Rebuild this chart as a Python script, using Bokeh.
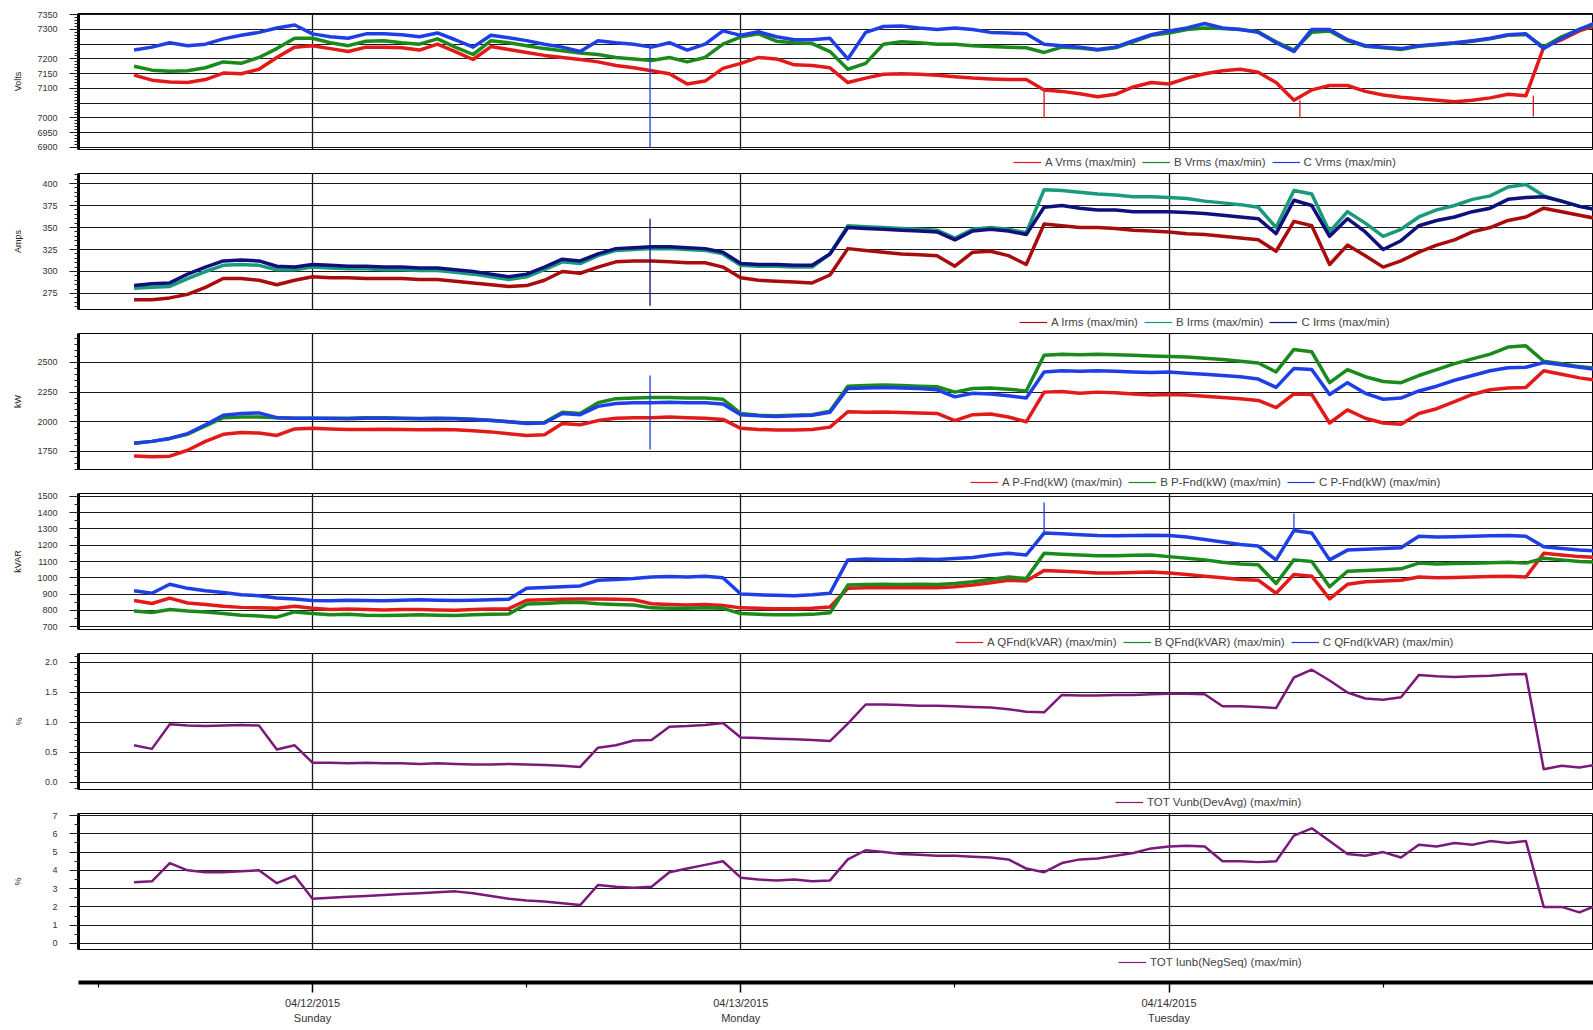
import numpy as np
from bokeh.plotting import figure
from bokeh.models import (Range1d, LinearAxis, FixedTicker, Grid, Legend, LegendItem,
                          PrintfTickFormatter, ColumnDataSource)
from bokeh.layouts import column
from bokeh.embed import file_html
from bokeh.resources import INLINE

FONT = "Liberation Sans"

# ---------------- hourly readings, 2015-04-11 14:00 -> 2015-04-15 00:00 ----------------
START = "2015-04-11T14:00"

# Volts
vrms_a = [7145, 7128, 7122, 7120, 7130, 7152, 7150, 7165, 7205, 7240,
          7245, 7235, 7225, 7240, 7240, 7238, 7230, 7250, 7225, 7198, 7242, 7232,
          7222, 7212, 7205, 7198, 7190, 7178, 7170, 7160, 7150, 7115, 7125, 7168,
          7185, 7205, 7200, 7180, 7178, 7170, 7120, 7135, 7148, 7150, 7148, 7145,
          7140, 7135, 7132, 7130, 7130, 7095, 7090, 7082, 7072, 7080, 7105, 7120,
          7115, 7135, 7150, 7160, 7165, 7155, 7120, 7060, 7095, 7110, 7110, 7090,
          7078, 7070, 7065, 7060, 7055, 7060, 7068, 7080, 7075, 7240, 7265, 7295,
          7315]
vrms_b = [7175, 7162, 7158, 7160, 7170, 7190, 7185, 7205, 7235, 7270,
          7270, 7255, 7245, 7260, 7262, 7255, 7250, 7268, 7240, 7215, 7262, 7255,
          7245, 7235, 7228, 7220, 7215, 7205, 7200, 7195, 7205, 7190, 7205, 7250,
          7275, 7285, 7260, 7255, 7252, 7225, 7165, 7185, 7250, 7258, 7255, 7250,
          7250, 7245, 7242, 7240, 7238, 7222, 7240, 7237, 7230, 7238, 7258, 7280,
          7288, 7300, 7305, 7303, 7300, 7292, 7258, 7230, 7290, 7295, 7262, 7243,
          7238, 7232, 7243, 7248, 7253, 7260, 7268, 7280, 7283, 7240, 7275, 7300,
          7320]
vrms_c = [7230, 7240, 7255, 7245, 7250, 7268, 7280, 7290, 7305, 7315,
          7285, 7275, 7270, 7285, 7285, 7282, 7275, 7288, 7265, 7240, 7280, 7272,
          7262, 7250, 7240, 7225, 7262, 7255, 7250, 7240, 7255, 7230, 7250, 7295,
          7280, 7292, 7275, 7265, 7265, 7270, 7200, 7290, 7310, 7312, 7305, 7300,
          7305, 7300, 7290, 7288, 7285, 7250, 7245, 7240, 7232, 7240, 7262, 7282,
          7295, 7305, 7320, 7305, 7300, 7290, 7255, 7225, 7300, 7300, 7265, 7245,
          7240, 7235, 7245, 7250, 7255, 7262, 7270, 7282, 7285, 7235, 7270, 7300,
          7325]

# Amps
irms_a = [268, 268, 270, 274, 282, 292, 292, 290, 285, 290,
          294, 293, 293, 292, 292, 292, 291, 291, 289, 287, 285, 283,
          284, 290, 300, 298, 305, 311, 312, 312, 311, 310, 310, 305,
          293, 290, 289, 288, 287, 296, 326, 324, 322, 320, 319, 318,
          306, 322, 323, 318, 308, 354, 352, 350, 350, 349, 347, 346,
          345, 343, 342, 340, 338, 336, 323, 357, 352, 308, 330, 318,
          305, 312, 322, 330, 336, 345, 350, 358, 362, 372, 368, 364,
          360]
irms_b = [281, 282, 283, 292, 300, 307, 308, 307, 302, 302,
          305, 304, 303, 303, 302, 302, 301, 301, 299, 297, 294, 291,
          294, 302, 311, 309, 318, 324, 325, 326, 326, 325, 324, 320,
          307, 306, 306, 305, 305, 320, 352, 351, 350, 349, 348, 347,
          338, 348, 350, 348, 344, 393, 392, 390, 388, 387, 385, 385,
          384, 383, 380, 378, 376, 373, 350, 392, 388, 345, 368, 355,
          340, 348, 362, 370, 375, 382, 386, 396, 399, 386, 380, 374,
          370]
irms_c = [284, 286, 287, 297, 305, 312, 313, 312, 306, 305,
          308, 307, 306, 306, 305, 305, 304, 304, 302, 300, 297, 294,
          297, 305, 314, 312, 320, 326, 327, 328, 328, 327, 326, 322,
          309, 308, 308, 307, 307, 320, 350, 349, 348, 347, 346, 345,
          336, 346, 348, 346, 342, 373, 375, 372, 370, 370, 368, 368,
          368, 367, 366, 364, 362, 360, 343, 381, 375, 340, 360, 345,
          325, 335, 352, 358, 362, 368, 372, 382, 384, 385, 380, 374,
          370]

# kW
kw_a = [1712, 1705, 1710, 1760, 1835, 1895, 1910, 1905, 1885, 1940,
        1945, 1940, 1935, 1935, 1938, 1935, 1932, 1935, 1932, 1925, 1915, 1900,
        1885, 1890, 1985, 1975, 2010, 2030, 2035, 2035, 2040, 2035, 2030, 2020,
        1945, 1935, 1930, 1930, 1935, 1955, 2085, 2080, 2082, 2078, 2075, 2070,
        2010, 2060, 2065, 2040, 2000, 2250, 2255, 2240, 2250, 2245, 2235, 2225,
        2230, 2225, 2215, 2205, 2195, 2180, 2120, 2235, 2230, 1990, 2100, 2030,
        1990, 1980, 2070, 2110, 2170, 2230, 2270, 2285, 2290, 2430, 2400, 2370,
        2350]
kw_b = [1820, 1835, 1860, 1895, 1965, 2035, 2040, 2040, 2035, 2030,
        2030, 2030, 2030, 2035, 2035, 2030, 2028, 2030, 2028, 2022, 2012, 2000,
        1990, 1995, 2080, 2070, 2160, 2195, 2200, 2205, 2205, 2200, 2200, 2190,
        2070, 2055, 2050, 2055, 2060, 2090, 2300, 2305, 2310, 2305, 2300, 2295,
        2250, 2280, 2285, 2275, 2260, 2560, 2570, 2565, 2570, 2565, 2560, 2555,
        2550, 2545, 2535, 2525, 2510, 2495, 2420, 2610, 2590, 2330, 2440, 2380,
        2340, 2330, 2390, 2440, 2490, 2530, 2570, 2630, 2640, 2510, 2490, 2465,
        2450]
kw_c = [1820, 1835, 1860, 1900, 1975, 2055, 2070, 2075, 2035, 2030,
        2030, 2028, 2025, 2030, 2030, 2028, 2025, 2028, 2025, 2020, 2010, 2000,
        1985, 1990, 2070, 2060, 2130, 2155, 2160, 2160, 2165, 2160, 2160, 2150,
        2060, 2050, 2045, 2050, 2055, 2080, 2280, 2285, 2290, 2285, 2280, 2270,
        2210, 2240, 2235, 2220, 2200, 2420, 2430, 2425, 2430, 2425, 2420, 2415,
        2420, 2410, 2400, 2390, 2380, 2360, 2290, 2450, 2440, 2230, 2330, 2240,
        2190, 2200, 2260, 2300, 2350, 2390, 2430, 2455, 2460, 2500, 2480, 2460,
        2440]

# kVAR
kvar_a = [860, 842, 875, 845, 835, 825, 818, 815, 812, 825,
          812, 805, 808, 805, 802, 805, 805, 802, 800, 805, 808, 810,
          862, 865, 868, 870, 870, 868, 865, 840, 835, 832, 835, 830,
          815, 812, 810, 810, 812, 820, 935, 938, 940, 938, 940, 938,
          945, 955, 970, 985, 980, 1045, 1040, 1035, 1030, 1030, 1032, 1035,
          1030, 1020, 1010, 1000, 990, 985, 905, 1020, 1010, 870, 960, 975,
          980, 985, 1005, 1000, 1002, 1005, 1008, 1010, 1005, 1150, 1140, 1130,
          1125]
kvar_b = [795, 786, 805, 795, 790, 780, 770, 765, 758, 790,
          780, 772, 775, 770, 768, 770, 772, 770, 768, 772, 775, 778,
          838, 842, 848, 850, 840, 835, 832, 815, 812, 812, 815, 812,
          780, 775, 772, 772, 775, 785, 955, 958, 960, 958, 960, 958,
          965, 975, 990, 1005, 995, 1150, 1145, 1140, 1135, 1135, 1138, 1140,
          1130, 1120, 1110, 1095, 1085, 1080, 965, 1110, 1100, 945, 1040, 1045,
          1050, 1055, 1090, 1085, 1088, 1090, 1092, 1095, 1090, 1120, 1110, 1100,
          1095]
kvar_c = [920, 905, 960, 935, 920, 910, 895, 890, 875, 870,
          860, 858, 862, 860, 858, 862, 865, 862, 860, 862, 865, 868,
          935, 940, 945, 950, 985, 990, 995, 1005, 1008, 1005, 1010, 1000,
          900, 895, 892, 890, 895, 905, 1110, 1115, 1112, 1110, 1115, 1112,
          1118, 1125, 1140, 1150, 1140, 1275, 1270, 1265, 1260, 1258, 1260, 1262,
          1260, 1250, 1235, 1220, 1205, 1195, 1110, 1290, 1275, 1110, 1170, 1175,
          1180, 1185, 1255, 1250, 1252, 1255, 1258, 1260, 1255, 1190, 1180, 1170,
          1165]

# % voltage unbalance
vunb = [0.62, 0.56, 0.97, 0.95, 0.94, 0.95, 0.96, 0.95, 0.55, 0.62,
        0.33, 0.33, 0.32, 0.33, 0.32, 0.32, 0.31, 0.32, 0.31, 0.30, 0.30, 0.31,
        0.30, 0.29, 0.28, 0.26, 0.58, 0.62, 0.70, 0.71, 0.93, 0.94, 0.96, 0.99,
        0.75, 0.74, 0.73, 0.72, 0.71, 0.69, 0.98, 1.30, 1.30, 1.29, 1.28, 1.28,
        1.27, 1.26, 1.25, 1.22, 1.18, 1.17, 1.46, 1.45, 1.45, 1.46, 1.46, 1.47,
        1.48, 1.48, 1.47, 1.27, 1.27, 1.26, 1.24, 1.75, 1.88, 1.70, 1.50, 1.40,
        1.38, 1.42, 1.79, 1.77, 1.76, 1.77, 1.78, 1.80, 1.81, 0.22, 0.28, 0.25,
        0.30]

# % current unbalance
iunb = [3.35, 3.40, 4.40, 4.00, 3.90, 3.90, 3.95, 4.00, 3.30, 3.70,
        2.45, 2.50, 2.55, 2.60, 2.65, 2.70, 2.75, 2.80, 2.85, 2.75, 2.60, 2.45,
        2.35, 2.30, 2.20, 2.10, 3.20, 3.10, 3.05, 3.10, 3.90, 4.10, 4.30, 4.50,
        3.60, 3.50, 3.45, 3.50, 3.40, 3.45, 4.60, 5.10, 5.00, 4.90, 4.85, 4.80,
        4.80, 4.75, 4.70, 4.60, 4.10, 3.90, 4.40, 4.60, 4.65, 4.80, 4.95, 5.20,
        5.30, 5.35, 5.30, 4.50, 4.50, 4.45, 4.50, 5.90, 6.30, 5.60, 4.90, 4.80,
        5.00, 4.70, 5.40, 5.30, 5.50, 5.40, 5.60, 5.50, 5.60, 2.00, 2.00, 1.70,
        2.10]

# single-sample transients (time, from, to, phase index)
vrms_spikes = [("2015-04-12T18:55", 7240, 6900, 2), ("2015-04-13T17:00", 7090, 7000, 0),
               ("2015-04-14T07:20", 7060, 7000, 0), ("2015-04-14T20:25", 7075, 7005, 0)]
irms_spikes = [("2015-04-12T18:55", 360, 261, 2)]
kw_spikes = [("2015-04-12T18:55", 2390, 1767, 2)]
kvar_spikes = [("2015-04-13T17:00", 1275, 1463, 2), ("2015-04-14T07:00", 1290, 1395, 2)]

day_dates = ["2015-04-12", "2015-04-13", "2015-04-14", "2015-04-15"]
day_labels = ["04/12/2015\nSunday", "04/13/2015\nMonday", "04/14/2015\nTuesday", "04/15/2015\nWednesday"]
noon_dates = ["2015-04-11T12:00", "2015-04-12T12:00", "2015-04-13T12:00", "2015-04-14T12:00"]


def ms(s):
    return float(np.datetime64(s, "ms").astype("int64"))


def times_for(vals):
    t0 = np.datetime64(START, "ms").astype("int64")
    return (t0 + np.arange(len(vals)) * 3600000).astype(float)


day_ticks = [ms(d) for d in day_dates]
noon_ticks = [ms(d) for d in noon_dates]
x_range = Range1d(ms("2015-04-11T10:53:10"), ms("2015-04-14T23:47:20"))

RED, GREEN, BLUE = "#e31a1a", "#1a8a1a", "#1f3fe6"
PURPLE = "#7a1a7a"

panels = [
    dict(ylabel="Volts", yr=(6893, 7354), major=[6900, 6950, 7000, 7100, 7150, 7200, 7300, 7350],
         grid=list(range(6900, 7351, 50)), minor=10, fmt="%d", lab_w=20, lw=3.5,
         series=[("A Vrms (max/min)", vrms_a, RED), ("B Vrms (max/min)", vrms_b, GREEN),
                 ("C Vrms (max/min)", vrms_c, BLUE)], spikes=vrms_spikes, legend_x=1013),
    dict(ylabel="Amps", yr=(256.8, 411.4), major=[275, 300, 325, 350, 375, 400],
         grid=[275, 300, 325, 350, 375, 400], minor=5, fmt="%d", lab_w=15, lw=3.5,
         series=[("A Irms (max/min)", irms_a, "#a80c0c"), ("B Irms (max/min)", irms_b, "#1a9a7c"),
                 ("C Irms (max/min)", irms_c, "#10107c")], spikes=irms_spikes, legend_x=1019),
    dict(ylabel="kW", yr=(1598, 2744), major=[1750, 2000, 2250, 2500],
         grid=[1750, 2000, 2250, 2500], minor=50, fmt="%d", lab_w=20, lw=3.5,
         series=[("A P-Fnd(kW) (max/min)", kw_a, RED), ("B P-Fnd(kW) (max/min)", kw_b, GREEN),
                 ("C P-Fnd(kW) (max/min)", kw_c, BLUE)], spikes=kw_spikes, legend_x=970),
    dict(ylabel="kVAR", yr=(682, 1518), major=list(range(700, 1501, 100)),
         grid=list(range(700, 1501, 100)), minor=50, fmt="%d", lab_w=20, lw=3.5,
         series=[("A QFnd(kVAR) (max/min)", kvar_a, RED), ("B QFnd(kVAR) (max/min)", kvar_b, GREEN),
                 ("C QFnd(kVAR) (max/min)", kvar_c, BLUE)], spikes=kvar_spikes, legend_x=955),
    dict(ylabel="%", yr=(-0.117, 2.15), major=[0.0, 0.5, 1.0, 1.5, 2.0],
         grid=[0.0, 0.5, 1.0, 1.5, 2.0], minor=0.1, fmt="%.1f", lab_w=12.5, lw=2.5,
         series=[("TOT Vunb(DevAvg) (max/min)", vunb, PURPLE)], spikes=[], legend_x=1115),
    dict(ylabel="%", yr=(-0.33, 7.11), major=list(range(0, 8)),
         grid=list(range(0, 8)), minor=0.5, fmt="%d", lab_w=5, lw=2.5,
         series=[("TOT Iunb(NegSeq) (max/min)", iunb, PURPLE)], spikes=[], legend_x=1118),
]

W = 1593
LEFT = 78
PAD = 1


def bare_figure(height, y_range, top, bottom, outline):
    f = figure(width=W, height=height, x_range=x_range, y_range=y_range,
               x_axis_location=None, y_axis_location=None, output_backend="svg",
               toolbar_location=None, min_border_left=LEFT, min_border_right=0,
               min_border_top=top, min_border_bottom=bottom,
               outline_line_color=outline, outline_line_width=1,
               background_fill_color="white", border_fill_color="white")
    f.xgrid.visible = False
    f.ygrid.visible = False
    return f


figs = []
n = len(panels)
for i, cfg in enumerate(panels):
    last = i == n - 1
    top = 13 if i == 0 else 4
    lo, hi = cfg["yr"]

    # ---------- data panel ----------
    p = bare_figure(top + 136 + 4, Range1d(lo, hi), top, 4, "black")
    p.add_layout(Grid(dimension=0, ticker=FixedTicker(ticks=day_ticks),
                      grid_line_color="#1a1a1a", grid_line_width=1.3))
    p.add_layout(Grid(dimension=1, ticker=FixedTicker(ticks=cfg["grid"]),
                      grid_line_color="#1a1a1a", grid_line_width=1.2))

    minor_ticks = list(np.arange(np.floor(lo / cfg["minor"]) * cfg["minor"], hi, cfg["minor"]))
    ya = LinearAxis(ticker=FixedTicker(ticks=cfg["major"], minor_ticks=minor_ticks),
                    formatter=PrintfTickFormatter(format=cfg["fmt"]),
                    axis_label=cfg["ylabel"],
                    axis_line_width=3, axis_line_color="black",
                    major_tick_out=9, major_tick_in=0, major_tick_line_color="#222222",
                    minor_tick_out=4, minor_tick_in=0, minor_tick_line_color="#222222",
                    major_label_standoff=12,
                    major_label_text_font=FONT, major_label_text_font_size="9px",
                    major_label_text_color="#333333",
                    axis_label_text_font=FONT, axis_label_text_font_size="9px",
                    axis_label_text_font_style="normal", axis_label_text_color="#222222",
                    axis_label_standoff=int(round(31 - cfg["lab_w"])))
    p.add_layout(ya, "left")

    colors = [c for _, _, c in cfg["series"]]
    for name, vals, color in cfg["series"]:
        src = ColumnDataSource(dict(t=times_for(vals), v=vals))
        p.line("t", "v", source=src, line_color=color, line_width=cfg["lw"], line_join="round")
    if cfg["spikes"]:
        sp = cfg["spikes"]
        p.segment(x0=[ms(s[0]) for s in sp], y0=[s[1] for s in sp],
                  x1=[ms(s[0]) for s in sp], y1=[s[2] for s in sp],
                  line_color=[colors[s[3]] for s in sp], line_width=1.3)
    figs.append(p)

    # ---------- legend strip ----------
    if last:
        axis_h = 46
        strip = bare_figure(29 + axis_h, Range1d(0, 1), 0, axis_h, None)
        y_off = 13
    else:
        strip = bare_figure(16, Range1d(0, 1), 0, 0, None)
        y_off = 0
    items = []
    for name, vals, color in cfg["series"]:
        proxy = strip.line(x=[np.nan], y=[np.nan], line_color=color, line_width=1.2)
        items.append(LegendItem(label=name, renderers=[proxy]))
    legend = Legend(items=items, orientation="horizontal",
                    location=(cfg["legend_x"] - LEFT - PAD, y_off),
                    border_line_alpha=0, background_fill_alpha=0,
                    label_text_font=FONT, label_text_font_size="11.5px",
                    label_text_color="#444444", glyph_width=28, glyph_height=12,
                    label_height=12, label_standoff=4, spacing=6,
                    padding=PAD, margin=0)
    strip.add_layout(legend, "center")

    if last:
        xa = LinearAxis(ticker=FixedTicker(ticks=day_ticks, minor_ticks=noon_ticks),
                        major_label_overrides=dict(zip(day_ticks, day_labels)),
                        axis_line_width=4, axis_line_color="black",
                        major_tick_out=10, major_tick_in=0, major_tick_line_width=1.5,
                        minor_tick_out=5, minor_tick_in=0, minor_tick_line_width=1.2,
                        major_label_standoff=4,
                        major_label_text_font=FONT, major_label_text_font_size="11px",
                        major_label_text_color="#333333",
                        major_label_text_line_height=1.3)
        strip.add_layout(xa, "below")
    figs.append(strip)

layout = column(*figs, spacing=0)
open("out.html", "w").write(file_html(layout, INLINE))
